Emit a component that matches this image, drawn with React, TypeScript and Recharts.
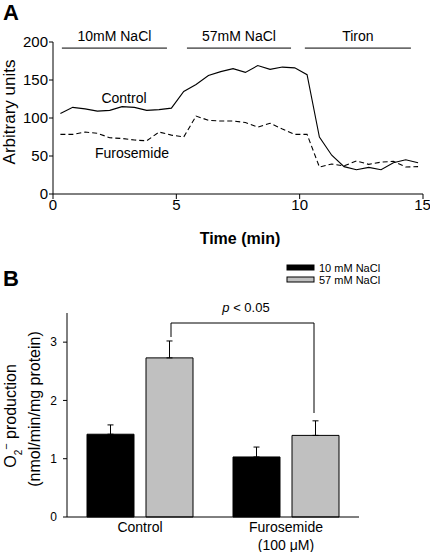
import React from 'react';
import { LineChart, Line, XAxis, YAxis, ReferenceLine, BarChart, Bar, ErrorBar } from 'recharts';

// Panel A: time course (min) and arbitrary units
const timeMin = [0.3, 0.8, 1.3, 1.8, 2.3, 2.8, 3.3, 3.8, 4.3, 4.8, 5.3, 5.8, 6.3, 6.8, 7.3, 7.8, 8.3, 8.8, 9.3, 9.8, 10.3, 10.8, 11.3, 11.8, 12.3, 12.8, 13.3, 13.8, 14.3, 14.8];
const controlA = [106, 114, 112, 109, 110, 115, 114, 110, 111, 113, 135, 144, 156, 161, 165, 160, 169, 164, 167, 166, 157, 75, 51, 36, 32, 35, 32, 41, 45, 41];
const furosemideA = [78.5, 78.5, 81.5, 80, 74, 73, 71, 70, 81.5, 77.5, 75, 102.5, 97, 96, 96, 94, 88, 93, 85.5, 78.5, 78.5, 35.5, 39.5, 37, 43.5, 39, 42, 43, 35.5, 36];
const xTicksA = [0, 5, 10, 15];
const yTicksA = [0, 50, 100, 150, 200];

// treatment periods drawn above the traces
const periodNames = ['10mM NaCl', '57mM NaCl', 'Tiron'];
const periodStart = [0.36, 5.43, 10.21];
const periodEnd = [4.62, 9.65, 14.51];

// Panel B: O2- production
const groups = ['Control', 'Furosemide'];
const nacl10 = [1.42, 1.03];
const nacl10Err = [0.16, 0.17];
const nacl57 = [2.73, 1.4];
const nacl57Err = [0.29, 0.25];
const yTicksB = [0, 1, 2, 3];

const FONT = '"Liberation Sans", Arial, sans-serif';

const lineData = timeMin.map((t, i) => ({ t, control: controlA[i], furo: furosemideA[i] }));
const barData = groups.map((g, i) => ({
  group: g,
  low: nacl10[i],
  lowErr: [0, nacl10Err[i]],
  high: nacl57[i],
  highErr: [0, nacl57Err[i]],
}));

const GroupTick = (props: any) => {
  const { x, y, payload } = props;
  return (
    <g>
      <text x={x} y={y + 15} textAnchor="middle" fontSize={14} fontFamily={FONT} fill="#000">
        {payload.value}
      </text>
      {payload.value === 'Furosemide' && (
        <text x={x} y={y + 33} textAnchor="middle" fontSize={14} fontFamily={FONT} fill="#000">
          (100 μM)
        </text>
      )}
    </g>
  );
};

export default function App() {
  const axisTick = { fill: '#000', fontSize: 15, fontFamily: FONT };
  return (
    <div style={{ position: 'absolute', left: 0, top: 0, width: 430, height: 552, background: '#fff', fontFamily: FONT }}>
      <div style={{ position: 'absolute', left: 0, top: 0 }}>
        <LineChart width={430} height={250} data={lineData} margin={{ top: 42, right: 7, bottom: 31, left: 0 }}>
          <XAxis
            dataKey="t"
            type="number"
            domain={[0, 15]}
            ticks={xTicksA}
            stroke="#000"
            tick={axisTick}
            tickSize={5}
            tickMargin={0}
            height={25}
          />
          <YAxis
            domain={[0, 200]}
            ticks={yTicksA}
            stroke="#000"
            tick={axisTick}
            tickSize={4}
            tickMargin={1}
            width={53}
          />
          {periodNames.map((n, i) => (
            <ReferenceLine
              key={n}
              segment={[{ x: periodStart[i], y: 192 }, { x: periodEnd[i], y: 192 }]}
              stroke="#000"
              strokeWidth={1}
            />
          ))}
          <Line dataKey="control" type="linear" stroke="#000" strokeWidth={1.1} dot={false} isAnimationActive={false} />
          <Line dataKey="furo" type="linear" stroke="#000" strokeWidth={1.1} strokeDasharray="5 3" dot={false} isAnimationActive={false} />
        </LineChart>
      </div>

      <div style={{ position: 'absolute', left: 0, top: 270 }}>
        <BarChart width={430} height={282} data={barData} margin={{ top: 43, right: 71, bottom: 5, left: 0 }} barGap={12} barSize={47}>
          <XAxis dataKey="group" stroke="#000" tickLine={false} tickSize={0} tickMargin={0} height={30} tick={<GroupTick />} interval={0} />
          <YAxis
            domain={[0, 3.5]}
            ticks={yTicksB}
            stroke="#000"
            tick={{ fill: '#000', fontSize: 12, fontFamily: FONT }}
            tickSize={4}
            tickMargin={6}
            width={67}
          />
          <Bar dataKey="low" fill="#000" stroke="#000" strokeWidth={1} isAnimationActive={false}>
            <ErrorBar dataKey="lowErr" direction="y" width={3} stroke="#000" strokeWidth={1} />
          </Bar>
          <Bar dataKey="high" fill="#c0c0c0" stroke="#000" strokeWidth={1} isAnimationActive={false}>
            <ErrorBar dataKey="highErr" direction="y" width={3} stroke="#000" strokeWidth={1} />
          </Bar>
        </BarChart>
      </div>

      <svg width={430} height={552} style={{ position: 'absolute', left: 0, top: 0, pointerEvents: 'none' }} fontFamily={FONT}>
        {/* panel A annotations */}
        <text x={3} y={20} fontSize={22} fontWeight="bold">A</text>
        {periodNames.map((n, i) => (
          <text key={n} x={53 + ((periodStart[i] + periodEnd[i]) / 2) * 24.67} y={41} fontSize={14} textAnchor="middle">
            {n}
          </text>
        ))}
        <text x={124} y={103} fontSize={14} textAnchor="middle">Control</text>
        <text x={132} y={158} fontSize={14} textAnchor="middle">Furosemide</text>
        <text x={15} y={112} fontSize={17} textAnchor="middle" transform="rotate(-90 15 112)">Arbitrary units</text>
        <text x={240} y={244} fontSize={16} fontWeight="bold" textAnchor="middle">Time (min)</text>

        {/* panel B annotations */}
        <text x={3} y={286} fontSize={22} fontWeight="bold">B</text>
        <rect x={287} y={265} width={27} height={5} fill="#000" stroke="#000" />
        <text x={319} y={272} fontSize={11}>10 mM NaCl</text>
        <rect x={287} y={277} width={27} height={5} fill="#c0c0c0" stroke="#000" />
        <text x={319} y={284} fontSize={11}>57 mM NaCl</text>

        <polyline points="171,337 171,323 314,323 314,413" fill="none" stroke="#000" strokeWidth={1} />
        <text x={246} y={312} fontSize={13} textAnchor="middle">
          <tspan fontStyle="italic">p</tspan> &lt; 0.05
        </text>

        <text x={15.5} y={416} fontSize={16} textAnchor="middle" transform="rotate(-90 15.5 416)">
          O<tspan fontSize={10} dy={6}>2</tspan><tspan fontSize={11} dy={-12}>−</tspan><tspan dy={6}> production</tspan>
        </text>
        <text x={40} y={409} fontSize={16} textAnchor="middle" transform="rotate(-90 40 409)">
          (nmol/min/mg protein)
        </text>
      </svg>
    </div>
  );
}
